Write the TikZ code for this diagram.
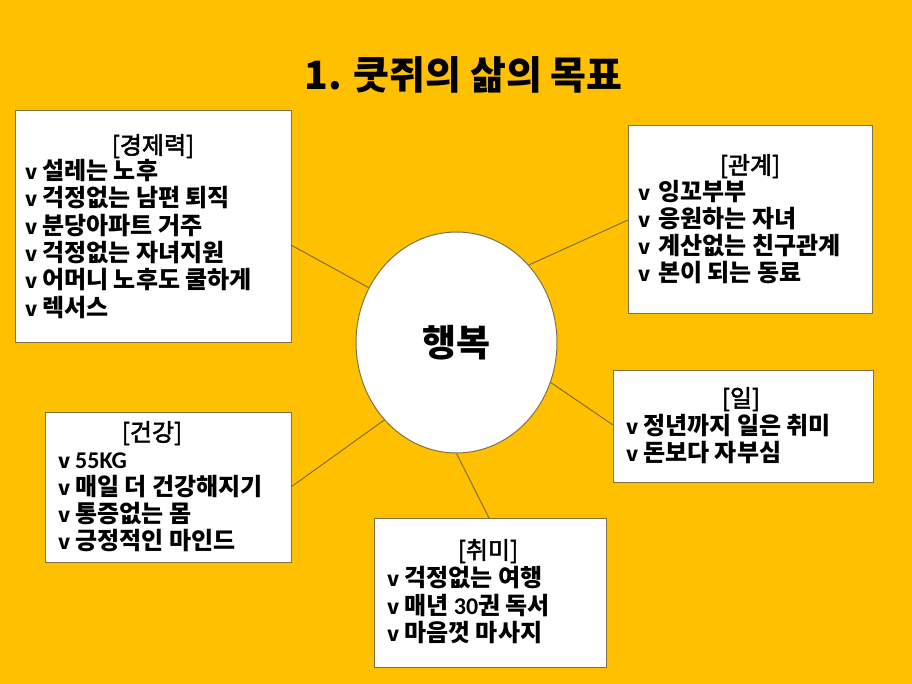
\documentclass[tikz,border=0pt]{standalone}
\usepackage{fontspec}
\usetikzlibrary{shapes.geometric}
\setmainfont{Noto Sans CJK KR}
\newfontfamily\krfont{Noto Sans CJK KR}
\newfontface\krhead{Noto Sans CJK KR}[FakeBold=2.2]
\newfontfamily\calfont{Carlito}
\definecolor{bgc}{RGB}{255,192,0}
\definecolor{edgec}{RGB}{130,112,72}
\newcommand{\bul}[1]{\makebox[#1pt][l]{\fontsize{20}{24}\selectfont v}}
\begin{document}
\begin{tikzpicture}[x=1pt,y=-1pt,
  box/.style={draw=edgec, line width=1pt, fill=white, inner sep=0pt, anchor=north west},
  head/.style={inner sep=0pt, anchor=base, font=\krhead\fontsize{24}{28}\selectfont},
  item/.style={inner sep=0pt, anchor=base west, font=\krfont\bfseries\fontsize{24}{28}\selectfont},
  conn/.style={draw=edgec, line width=1pt}]
\fill[bgc] (0,0) rectangle (912,684);
\useasboundingbox (0,0) rectangle (912,684);

% title
\node[inner sep=0pt, font=\krfont\bfseries\fontsize{39}{44}\selectfont] (title) at (463.5,75) {1. 쿳쥐의 삶의 목표};

% center ellipse
\node[ellipse, draw=edgec, line width=1pt, fill=white, minimum width=201pt, minimum height=221pt, inner sep=0pt,
  font=\krfont\bfseries\fontsize{37}{42}\selectfont] (happy) at (456.5,342.5) {행복};

% boxes
\node[box, minimum width=276pt, minimum height=232pt] (eco) at (15,110) {};
\node[box, minimum width=244pt, minimum height=188pt] (rel) at (628,125) {};
\node[box, minimum width=260pt, minimum height=112pt] (work) at (613,370) {};
\node[box, minimum width=246pt, minimum height=150pt] (health) at (45,412) {};
\node[box, minimum width=232pt, minimum height=149pt] (hobby) at (374,518) {};

% connectors
\coordinate (ceco) at (291,245);
\coordinate (crel) at (628,220);
\coordinate (cwork) at (613,425);
\coordinate (chealth) at (291,487);
\coordinate (chobby) at (489,518);
\draw[conn] (ceco) -- (happy.148);
\draw[conn] (crel) -- (happy.47.6);
\draw[conn] (cwork) -- (happy.-23.2);
\draw[conn] (chealth) -- (happy.227.2);
\draw[conn] (chobby) -- (happy.270);

% 경제력
\node[head] (ecoh) at (153,154) {[경제력]};
\node[item] (eco1) at (25,179.7) {\bul{17}설레는 노후};
\node[item] (eco2) at (25,207) {\bul{17}걱정없는 남편 퇴직};
\node[item] (eco3) at (25,234.3) {\bul{17}분당아파트 거주};
\node[item] (eco4) at (25,261.6) {\bul{17}걱정없는 자녀지원};
\node[item] (eco5) at (25,288.9) {\bul{17}어머니 노후도 쿨하게};
\node[item] (eco6) at (25,316.2) {\bul{17}렉서스};

% 관계
\node[head] (relh) at (750,174) {[관계]};
\node[item] (rel1) at (638,200.7) {\bul{20}잉꼬부부};
\node[item] (rel2) at (638,227.7) {\bul{20}응원하는 자녀};
\node[item] (rel3) at (638,254.7) {\bul{20}계산없는 친구관계};
\node[item] (rel4) at (638,281.7) {\bul{20}본이 되는 동료};

% 일
\node[head] (workh) at (741,407) {[일]};
\node[item] (work1) at (626,434) {\bul{17}정년까지 일은 취미};
\node[item] (work2) at (626,461) {\bul{17}돈보다 자부심};

% 건강
\node[head] (healthh) at (152,441) {[건강]};
\node[item] (health1) at (58,468.7) {\bul{17}{\calfont\bfseries 55KG}};
\node[item] (health2) at (58,495.7) {\bul{17}매일 더 건강해지기};
\node[item] (health3) at (58,522.7) {\bul{17}통증없는 몸};
\node[item] (health4) at (58,549.7) {\bul{17}긍정적인 마인드};

% 취미
\node[head] (hobbyh) at (488,559) {[취미]};
\node[item] (hobby1) at (387,586.7) {\bul{17}걱정없는 여행};
\node[item] (hobby2) at (387,614.2) {\bul{17}매년 {\calfont\bfseries 30}권 독서};
\node[item] (hobby3) at (387,641.7) {\bul{17}마음껏 마사지};
\end{tikzpicture}
\end{document}
